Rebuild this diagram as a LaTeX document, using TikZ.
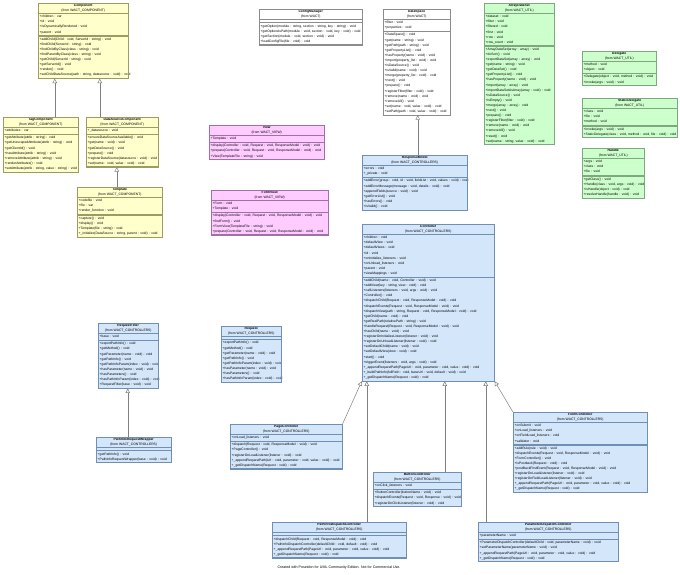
\documentclass[tikz,border=0pt]{standalone}
\usepackage{fontspec}
\setmainfont{Liberation Sans}
\usetikzlibrary{arrows.meta,fit}
\setlength\parindent{0pt}
\definecolor{ylf}{HTML}{FFFFCC}\definecolor{yld}{HTML}{9C9C60}
\definecolor{blf}{HTML}{D4E6FA}\definecolor{bld}{HTML}{6F8FB5}
\definecolor{pkf}{HTML}{FFCCFF}\definecolor{pkd}{HTML}{A070A8}
\definecolor{grf}{HTML}{CCFFCC}\definecolor{grd}{HTML}{80A880}
\definecolor{whf}{HTML}{FFFFFF}\definecolor{whd}{HTML}{8C8C8C}
\newcommand\tl[1]{\begin{tabular}{@{}l@{}}#1\end{tabular}}
\newcommand\umlcls[9]{%
  \node[hdr,fill=#9f,draw=#9d,text width=#4pt,anchor=north west] (#1h) at (#2,#3) {\textbf{#5}\\(from #6)};
  \node[prt,fill=#9f,draw=#9d,text width=#4pt,anchor=north west] (#1a) at (#1h.south west) {\tl{#7}};
  \node[prt,fill=#9f,draw=#9d,text width=#4pt,anchor=north west] (#1m) at (#1a.south west) {\tl{#8}};
  \node[fit=(#1h)(#1m),inner sep=0pt,draw=#9d,line width=0.5pt] (#1) {};
}
\tikzset{
  every node/.style={font=\fontsize{3.35}{5.1}\selectfont},
  hdr/.style={inner xsep=1.5pt,inner ysep=0.8pt,align=center,line width=0.4pt},
  prt/.style={inner xsep=1.5pt,inner ysep=0.8pt,align=left,line width=0.4pt},
  gen/.style={draw=black!50,line width=0.5pt,-{Triangle[open,length=4.5pt,width=4.5pt,fill=white]}},
}
\begin{document}
\begin{tikzpicture}[x=1pt,y=-1pt]
\useasboundingbox[fill=white] (0,0) rectangle (680,575);

\umlcls{Component}{38}{3}{87}{Component}{WACT\_COMPONENT}
 {+children : var\\+id : void\\+IsDynamicallyRendered : void\\+parent : void}
 {+addChild(Child : void, ServerId : string) : void\\+findChild(ServerId : string) : void\\+findChildByClass(class : string) : void\\+findParentByClass(class : string) : void\\+getChild(ServerId : string) : void\\+getServerId() : void\\+render() : void\\+setChildDataSource(path : string, datasource : void) : void}{yl}

\umlcls{TagComponent}{3}{117}{72}{TagComponent}{WACT\_COMPONENT}
 {+attributes : var}
 {+getAttribute(attrib : string) : void\\+getUnescapedAttribute(attrib : string) : void\\+getClientId() : void\\+hasAttribute(attrib : string) : void\\+removeAttribute(attrib : string) : void\\+renderAttributes() : void\\+setAttribute(attrib : string, value : string) : void}{yl}

\umlcls{DataSourceComponent}{86}{117}{69}{DataSourceComponent}{WACT\_COMPONENT}
 {+\_datasource : void}
 {+ensureDataSourceAvailable() : void\\+get(name : void) : void\\+getDataSource() : void\\+prepare() : void\\+registerDataSource(datasource : void) : void\\+set(name : void, value : void) : void}{yl}

\umlcls{Template}{77}{187}{82}{Template}{WACT\_COMPONENT}
 {+codefile : void\\+file : var\\+render\_function : void}
 {+capture() : void\\+display() : void\\+Template(file : string) : void\\+\_initialize(DataSource : string, parent : void) : void}{yl}

\umlcls{ConfigManager}{259}{9}{100}{ConfigManager}{WACT}
 {}
 {+getOption(module : string, section : string, key : string) : void\\+getOptionAsPath(module : void, section : void, key : void) : void\\+getSection(module : void, section : void) : void\\+loadConfigFile(file : void) : void}{wh}

\umlcls{DataSpace}{383}{9}{64}{DataSpace}{WACT}
 {+filter : void\\+properties : void}
 {+DataSpace() : void\\+get(name : string) : void\\+getPath(path : string) : void\\+getPropertyList() : void\\+hasProperty(name : void) : void\\+import(property\_list : void) : void\\+isDataSource() : void\\+isValid(name : void) : void\\+merge(property\_list : void) : void\\+next() : void\\+prepare() : void\\+registerFilter(filter : void) : void\\+remove(name : void) : void\\+removeAll() : void\\+set(name : void, value : void) : void\\+setPath(path : void, value : void) : void}{wh}

\umlcls{ArrayDataSet}{484}{3}{67}{ArrayDataSet}{WACT\_UTIL}
 {+dataset : void\\+filter : void\\+filtered : void\\+first : void\\+row : void\\+row\_count : void}
 {+ArrayDataSet(array : array) : void\\+doSort() : void\\+exportDataSet(array : array) : void\\+get(name : string) : void\\+getDataSet() : void\\+getPropertyList() : void\\+hasProperty(name : void) : void\\+import(array : array) : void\\+importDataSetAsArray(array : void) : void\\+isDataSource() : void\\+isEmpty() : void\\+merge(array : array) : void\\+next() : void\\+prepare() : void\\+registerFilter(filter : void) : void\\+remove(name : void) : void\\+removeAll() : void\\+reset() : void\\+set(name : string, value : void) : void}{gr}

\umlcls{Delegate}{582}{51}{71}{Delegate}{WACT\_UTIL}
 {+method : void\\+object : void}
 {+Delegate(object : void, method : void) : void\\+invoke(args : void) : void}{gr}

\umlcls{StaticDelegate}{582}{98}{92}{StaticDelegate}{WACT\_UTIL}
 {+class : void\\+file : void\\+method : void}
 {+invoke(args : void) : void\\+StaticDelegate(class : void, method : void, file : void) : void}{gr}

\umlcls{Handle}{582}{148}{59}{Handle}{WACT\_UTIL}
 {+args : void\\+class : void\\+file : void}
 {+getClass() : void\\+Handle(class : void, args : void) : void\\+isHandle(object : void) : void\\+resolveHandle(handle : void) : void}{gr}

\umlcls{View}{209}{125}{112}{View}{WACT\_VIEW}
 {+Template : void}
 {+display(Controller : void, Request : void, ResponseModel : void) : void\\+prepare(Controller : void, Request : void, ResponseModel : void) : void\\+View(TemplateFile : string) : void}{pk}

\umlcls{FormView}{211}{190}{114}{FormView}{WACT\_VIEW}
 {+Form : void\\+Template : void}
 {+display(Controller : void, Request : void, ResponseModel : void) : void\\+findForm() : void\\+FormView(TemplateFile : string) : void\\+prepare(Controller : void, Request : void, ResponseModel : void) : void}{pk}

\umlcls{ResponseModel}{362}{155}{102}{ResponseModel}{WACT\_CONTROLLERS}
 {+errors : void\\+\_private : void}
 {+addError(group : void, id : void, fieldList : void, values : void) : void\\+addErrorMessage(message : void, details : void) : void\\+appendFields(source : void) : void\\+getErrorList() : void\\+hasErrors() : void\\+isValid() : void}{bl}

\umlcls{Controller}{362}{224}{129}{Controller}{WACT\_CONTROLLERS}
 {+children : void\\+defaultView : void\\+defaultViews : void\\+id : void\\+onInitialize\_listeners : void\\+onUnload\_listeners : void\\+parent : void\\+viewMappings : void}
 {+addChild(name : void, Controller : void) : void\\+addView(key : string, view : void) : void\\+callListeners(listeners : void, args : void) : void\\+Controller() : void\\+dispatchChild(Request : void, ResponseModel : void) : void\\+dispatchEvents(Request : void, ResponseModel : void) : void\\+dispatchView(path : string, Request : void, ResponseModel : void) : void\\+getChild(name : void) : void\\+getRealPath(relativePath : string) : void\\+handleRequest(Request : void, ResponseModel : void) : void\\+hasChild(name : void) : void\\+registerOnInitializeListener(listener : void) : void\\+registerOnUnloadListener(listener : void) : void\\+setDefaultChild(name : void) : void\\+setDefaultView(view : void) : void\\+start() : void\\+triggerEvent(listeners : void, args : void) : void\\+\_appendRequestPath(PageUrl : void, parameter : void, value : void) : void\\+\_buildPathInfo(fullPath : void, baseUrl : void, default : void) : void\\+\_getDispatchName(Request : void) : void}{bl}

\umlcls{RequestFilter}{98}{323}{57}{RequestFilter}{WACT\_CONTROLLERS}
 {+base : void}
 {+exportPathInfo() : void\\+getMethod() : void\\+getParameter(name : void) : void\\+getPathInfo() : void\\+getPathInfoParam(index : void) : void\\+hasParameter(name : void) : void\\+hasParameters() : void\\+hasPathInfoParam(index : void) : void\\+RequestFilter(base : void) : void}{bl}

\umlcls{PathInfoRequestWrapper}{96}{437}{72}{PathInfoRequestWrapper}{WACT\_CONTROLLERS}
 {}
 {+getPathInfo() : void\\+PathInfoRequestWrapper(base : void) : void}{bl}

\umlcls{Request}{221}{326}{57}{Request}{WACT\_CONTROLLERS}
 {}
 {+exportPathInfo() : void\\+getMethod() : void\\+getParameter(name : void) : void\\+getPathInfo() : void\\+getPathInfoParam(index : void) : void\\+hasParameter(name : void) : void\\+hasParameters() : void\\+hasPathInfoParam(index : void) : void}{bl}

\umlcls{PageController}{230}{424}{109}{PageController}{WACT\_CONTROLLERS}
 {+onLoad\_listeners : void}
 {+dispatch(Request : void, ResponseModel : void) : void\\+PageController() : void\\+registerOnLoadListener(listener : void) : void\\+\_appendRequestPath(Url : void, parameter : void, value : void) : void\\+\_getDispatchName(Request : void) : void}{bl}

\umlcls{ButtonController}{373}{472}{85}{ButtonController}{WACT\_CONTROLLERS}
 {+onClick\_listeners : void}
 {+ButtonController(buttonName : void) : void\\+dispatchEvents(Request : void, Response : void) : void\\+registerOnClickListener(listener : void) : void}{bl}

\umlcls{FormController}{513}{412}{131}{FormController}{WACT\_CONTROLLERS}
 {+onSubmit : void\\+onLoad\_listeners : void\\+onFieldLoad\_listeners : void\\+validator : void}
 {+addRule(rule : void) : void\\+dispatchEvents(Request : void, ResponseModel : void) : void\\+FormController() : void\\+isPostback(Request : void) : void\\+postBackFirstEvent(Request : void, ResponseModel : void) : void\\+registerOnLoadListener(listener : void) : void\\+registerOnFieldLoadListener(listener : void) : void\\+\_appendRequestPath(PageUrl : void, parameter : void, value : void) : void\\+\_getDispatchName(Request : void) : void}{bl}

\umlcls{PathInfoDispatchController}{272}{522}{131}{PathInfoDispatchController}{WACT\_CONTROLLERS}
 {}
 {+dispatchChild(Request : void, ResponseModel : void) : void\\+PathInfoDispatchController(defaultChild : void, default : void) : void\\+\_appendRequestPath(PageUrl : void, parameter : void, value : void) : void\\+\_getDispatchName(Request : void) : void}{bl}

\umlcls{ParameterDispatchController}{478}{522}{137}{ParameterDispatchController}{WACT\_CONTROLLERS}
 {+parameterName : void}
 {+ParameterDispatchController(defaultChild : void, parameterName : void) : void\\+setParameterName(parameterName : void) : void\\+\_appendRequestPath(PageUrl : void, parameter : void, value : void) : void\\+\_getDispatchName(Request : void) : void}{bl}

% generalizations
\draw[gen] ([xshift=52pt]TagComponent.north west) -- ([xshift=17pt]Component.south west);
\draw[gen] ([xshift=14pt]DataSourceComponent.north west) -- ([xshift=62pt]Component.south west);
\draw[gen] ([xshift=40pt]Template.north west) -- ([xshift=31pt]DataSourceComponent.south west);
\draw[gen] ([xshift=56pt]ResponseModel.north west) -- ([xshift=35pt]DataSpace.south west);
\draw[gen] ([xshift=32pt]PathInfoRequestWrapper.north west) -- ([xshift=30pt]RequestFilter.south west);
\draw[gen] (PageController.north east) -- (Controller.south west);
\draw[gen] ([xshift=95pt]PathInfoDispatchController.north west) -- ([xshift=5pt]Controller.south west);
\draw[gen] ([xshift=72pt]ButtonController.north west) -- ([xshift=83pt]Controller.south west);
\draw[gen] ([xshift=8pt]ParameterDispatchController.north west) -- ([xshift=124pt]Controller.south west);
\draw[gen] (FormController.north west) -- (Controller.south east);

\node[font=\fontsize{3.6}{4.6}\selectfont] (footer) at (339,568) {Created with Poseidon for UML Community Edition. Not for Commercial Use.};
\end{tikzpicture}
\end{document}
